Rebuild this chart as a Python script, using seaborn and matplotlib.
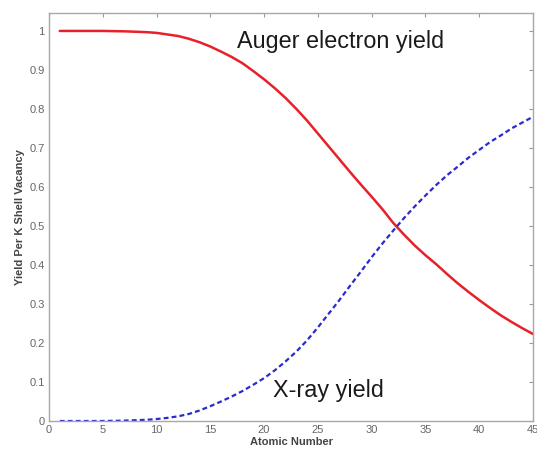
import matplotlib
matplotlib.use("Agg")
import matplotlib.pyplot as plt
import seaborn as sns
import pandas as pd

atomic_number = [1, 3, 5, 7, 9, 10, 11, 12, 13, 14, 15, 16, 17, 18, 19, 20,
                 21, 22, 23, 24, 25, 26, 27, 28, 29, 30, 31, 32, 33, 34, 35,
                 36, 37, 38, 39, 40, 41, 42, 43, 44, 45]
xray_yield = [0.0, 0.0, 0.0, 0.001, 0.003, 0.005, 0.008, 0.012, 0.018, 0.027,
              0.038, 0.05, 0.063, 0.077, 0.093, 0.11, 0.13, 0.153, 0.178,
              0.207, 0.24, 0.275, 0.31, 0.347, 0.383, 0.42, 0.455, 0.488,
              0.52, 0.55, 0.578, 0.605, 0.63, 0.652, 0.675, 0.695, 0.715,
              0.732, 0.75, 0.765, 0.78]
auger_yield = [1.0, 1.0, 1.0, 0.999, 0.997, 0.995, 0.991, 0.987, 0.98, 0.971,
               0.96, 0.947, 0.933, 0.917, 0.897, 0.876, 0.853, 0.828, 0.8,
               0.77, 0.737, 0.704, 0.671, 0.638, 0.606, 0.575, 0.543, 0.508,
               0.478, 0.45, 0.425, 0.402, 0.377, 0.353, 0.331, 0.31, 0.29,
               0.271, 0.254, 0.238, 0.223]
x_ticks = [0, 5, 10, 15, 20, 25, 30, 35, 40, 45]
y_ticks = [0, 0.1, 0.2, 0.3, 0.4, 0.5, 0.6, 0.7, 0.8, 0.9, 1]
y_tick_labels = ["0", "0.1", "0.2", "0.3", "0.4", "0.5", "0.6", "0.7", "0.8", "0.9", "1"]

sns.set_style("white")
plt.rcParams["font.family"] = ["Liberation Sans", "DejaVu Sans"]

df = pd.DataFrame({"Z": atomic_number, "xray": xray_yield, "auger": auger_yield})

fig = plt.figure(figsize=(5.37, 4.55), dpi=100)
ax = fig.add_axes([49 / 537, 34 / 455, 484 / 537, 408 / 455])

sns.lineplot(data=df, x="Z", y="auger", ax=ax, color="#e8202a", linewidth=1.8)
sns.lineplot(data=df, x="Z", y="xray", ax=ax, color="#2a2ad0", linewidth=1.6,
             linestyle=(0, (2.2, 1.4)))

ax.set_xlim(0, 45)
ax.set_ylim(0, 1.046)
ax.set_xticks(x_ticks)
ax.set_yticks(y_ticks)
ax.set_yticklabels(y_tick_labels)
ax.tick_params(direction="in", length=3, width=0.8, color="#999999",
               labelsize=8, labelcolor="#666666", top=True, right=True,
               labeltop=False, labelright=False, pad=3)
for s in ax.spines.values():
    s.set_color("#a8a8a8")
    s.set_linewidth(1.0)

ax.set_xlabel("Atomic Number", fontsize=8, fontweight="bold", color="#444444", labelpad=1)
ax.set_ylabel("Yield Per K Shell Vacancy", fontsize=8, fontweight="bold", color="#444444", labelpad=3)

ax.text(17.5, 0.972, "Auger electron yield", fontsize=16.8, ha="left", va="center", color="#1a1a1a")
ax.text(20.8, 0.079, "X-ray yield", fontsize=16.8, ha="left", va="center", color="#1a1a1a")

fig.savefig("out.png", dpi=100)
